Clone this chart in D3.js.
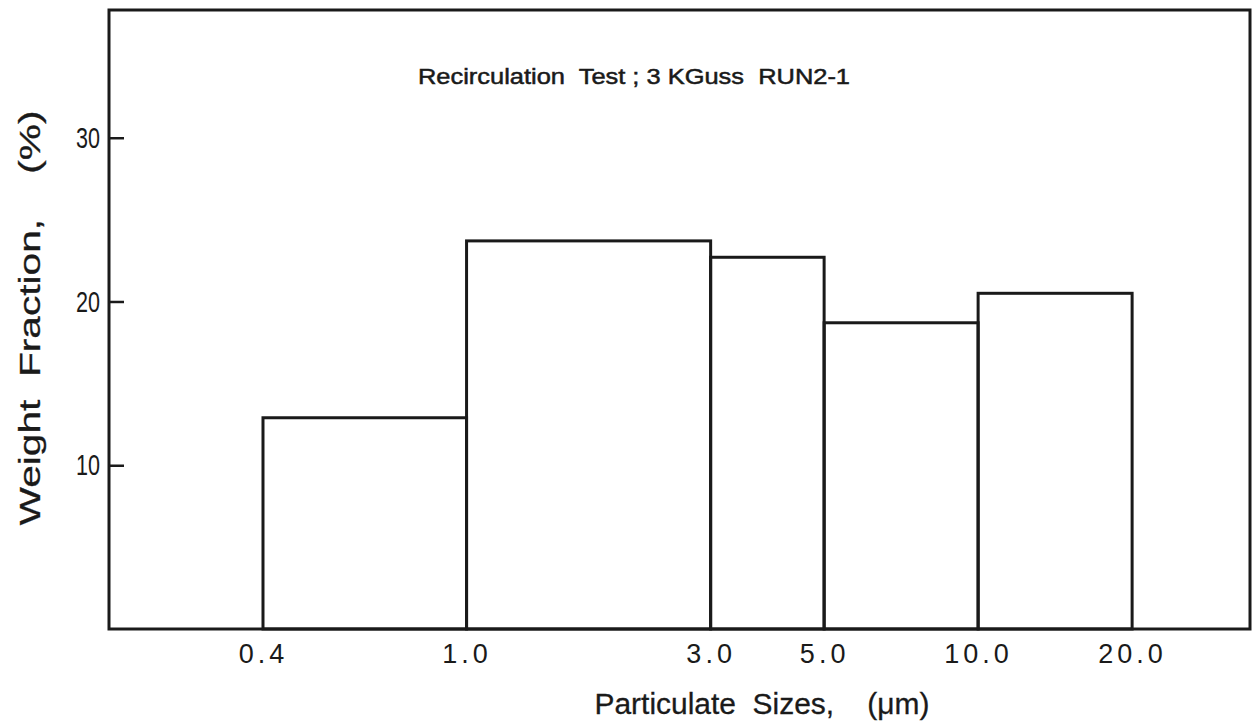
<!DOCTYPE html>
<html>
<head>
<meta charset="utf-8">
<script src="https://cdn.jsdelivr.net/npm/d3@7"></script>
<style>
  html, body { margin: 0; padding: 0; background: #fff; }
  svg { display: block; }
  text { font-family: "Liberation Sans", Arial, sans-serif; fill: #1a1a1a; white-space: pre; }
</style>
</head>
<body>
<svg id="chart" width="1257" height="723"></svg>
<script>
// Size-class edges (µm) and weight fraction (%) for each class
const binEdges = [0.4, 1.0, 3.0, 5.0, 10.0, 20.0];
const weightFraction = [12.9, 23.7, 22.7, 18.7, 20.5];
const xTickValues = [0.4, 1.0, 3.0, 5.0, 10.0, 20.0];
const xTickLabels = ["0.4", "1.0", "3.0", "5.0", "10.0", "20.0"];
const yTickValues = [10, 20, 30];

const titleText = "Recirculation  Test ; 3 KGuss  RUN2-1";
const xTitle = "Particulate  Sizes,    (\u03bcm)";
const yTitle = "Weight  Fraction,    (%)";

const svg = d3.select("#chart");
const plot = { left: 109, right: 1250, top: 10, bottom: 629 };

const x = d3.scaleLog().domain([0.2, 34]).range([plot.left, plot.right]);
const y = d3.scaleLinear().domain([0, 37.8]).range([plot.bottom, plot.top]);

const ink = "#1a1a1a";

// Histogram bars: one outlined rectangle per size class
const bins = weightFraction.map((v, i) => ({ x0: binEdges[i], x1: binEdges[i + 1], v }));
svg.append("g")
  .selectAll("rect")
  .data(bins)
  .join("rect")
  .attr("x", d => x(d.x0))
  .attr("y", d => y(d.v))
  .attr("width", d => x(d.x1) - x(d.x0))
  .attr("height", d => y(0) - y(d.v))
  .attr("fill", "none")
  .attr("stroke", ink)
  .attr("stroke-width", 3);

// Frame around the plot area
svg.append("rect")
  .attr("x", plot.left)
  .attr("y", plot.top)
  .attr("width", plot.right - plot.left)
  .attr("height", plot.bottom - plot.top)
  .attr("fill", "none")
  .attr("stroke", ink)
  .attr("stroke-width", 3);

// Y axis: inward ticks with condensed labels on the left
const yAxis = d3.axisLeft(y)
  .tickValues(yTickValues)
  .tickSizeInner(-15)
  .tickSizeOuter(0)
  .tickPadding(9)
  .tickFormat(d3.format("d"));
const gy = svg.append("g").attr("transform", `translate(${plot.left},0)`).call(yAxis);
gy.attr("font-size", null).attr("font-family", null);
gy.select(".domain").remove();
gy.selectAll(".tick line").attr("stroke", ink).attr("stroke-width", 2.5);
gy.selectAll(".tick text")
  .style("font-size", "30px")
  .attr("textLength", 24)
  .attr("lengthAdjust", "spacingAndGlyphs")
  .attr("fill", ink);

// X axis: labels only, on a log scale
const xAxis = d3.axisBottom(x)
  .tickValues(xTickValues)
  .tickSize(0)
  .tickPadding(15)
  .tickFormat((d, i) => xTickLabels[i]);
const gx = svg.append("g").attr("transform", `translate(0,${plot.bottom})`).call(xAxis);
gx.attr("font-size", null).attr("font-family", null);
gx.select(".domain").remove();
gx.selectAll(".tick text")
  .style("font-size", "27px")
  .attr("letter-spacing", 4)
  .attr("fill", ink);

// Title inside the frame
svg.append("text")
  .attr("x", 418)
  .attr("y", 84)
  .style("font-size", "22px")
  .attr("stroke", ink)
  .attr("stroke-width", 0.5)
  .attr("textLength", 432)
  .attr("lengthAdjust", "spacingAndGlyphs")
  .text(titleText);

// Axis titles
svg.append("text")
  .attr("x", 762)
  .attr("y", 714)
  .attr("text-anchor", "middle")
  .style("font-size", "30px")
  .attr("stroke", ink)
  .attr("stroke-width", 0.3)
  .attr("textLength", 335)
  .attr("lengthAdjust", "spacingAndGlyphs")
  .text(xTitle);

svg.append("text")
  .attr("transform", "translate(40,318) rotate(-90)")
  .attr("text-anchor", "middle")
  .style("font-size", "30px")
  .attr("stroke", ink)
  .attr("stroke-width", 0.3)
  .attr("textLength", 415)
  .attr("lengthAdjust", "spacingAndGlyphs")
  .text(yTitle);
</script>
</body>
</html>
